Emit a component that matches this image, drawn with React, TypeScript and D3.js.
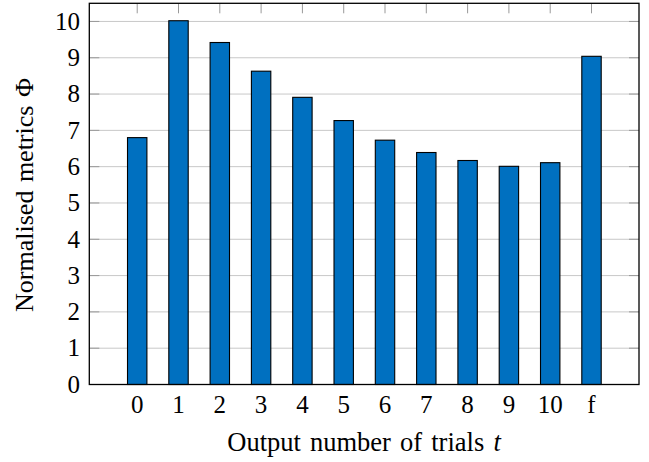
import React from "react";
import * as d3 from "d3";

const categories: string[] = ["0", "1", "2", "3", "4", "5", "6", "7", "8", "9", "10", "f"];
const values: number[] = [6.8, 10.02, 9.42, 8.63, 7.91, 7.27, 6.73, 6.39, 6.17, 6.01, 6.11, 9.04];
const yTicks: number[] = [0, 1, 2, 3, 4, 5, 6, 7, 8, 9, 10];

const W = 649;
const H = 462;
const left = 89.3;
const right = 639;
const top = 3.3;
const bottom = 384.5;

export default function App() {
  const x = d3.scaleLinear().domain([-1.16, 12.15]).range([left, right]);
  const y = d3.scaleLinear().domain([0, 10.5]).range([bottom, top]);
  const barW = 19.4;
  const font = "Liberation Serif";
  return (
    <svg width={W} height={H} style={{ position: "absolute", left: 0, top: 0, fontFamily: font }}>
      <rect x={0} y={0} width={W} height={H} fill="#fff" />
      {yTicks.map((t) => (
        <g key={"g" + t}>
          {t > 0 && t < 10.5 && (
            <line x1={left} x2={right} y1={y(t)} y2={y(t)} stroke="#c8c8c8" strokeWidth={1} />
          )}
          <line x1={left} x2={left + 10} y1={y(t)} y2={y(t)} stroke="#999" strokeWidth={1} />
          <line x1={right - 10} x2={right} y1={y(t)} y2={y(t)} stroke="#999" strokeWidth={1} />
          <text x={80} y={y(t)} dy="0.33em" textAnchor="end" fontSize={25} fill="#000">
            {t}
          </text>
        </g>
      ))}
      {categories.map((c, i) => (
        <g key={"c" + c}>
          <line x1={x(i)} x2={x(i)} y1={top} y2={top + 10} stroke="#999" strokeWidth={1} />
          <line x1={x(i)} x2={x(i)} y1={bottom} y2={bottom - 10} stroke="#999" strokeWidth={1} />
          <text x={x(i)} y={413} textAnchor="middle" fontSize={25} fill="#000">
            {c}
          </text>
        </g>
      ))}
      {values.map((v, i) => (
        <rect
          key={"b" + i}
          x={x(i) - barW / 2}
          y={y(v)}
          width={barW}
          height={y(0) - y(v)}
          fill="#0070c0"
          stroke="#000"
          strokeWidth={1.1}
        />
      ))}
      <rect x={left} y={top} width={right - left} height={bottom - top} fill="none" stroke="#000" strokeWidth={1.3} />
      <text x={364} y={451} textAnchor="middle" fontSize={26.5} fill="#000" wordSpacing={2.5}>
        Output number of trials <tspan fontStyle="italic">t</tspan>
      </text>
      <text
        transform={`translate(33, 195) rotate(-90)`}
        textAnchor="middle"
        fontSize={26}
        fill="#000"
        wordSpacing={2}
      >
        Normalised metrics Φ
      </text>
    </svg>
  );
}
